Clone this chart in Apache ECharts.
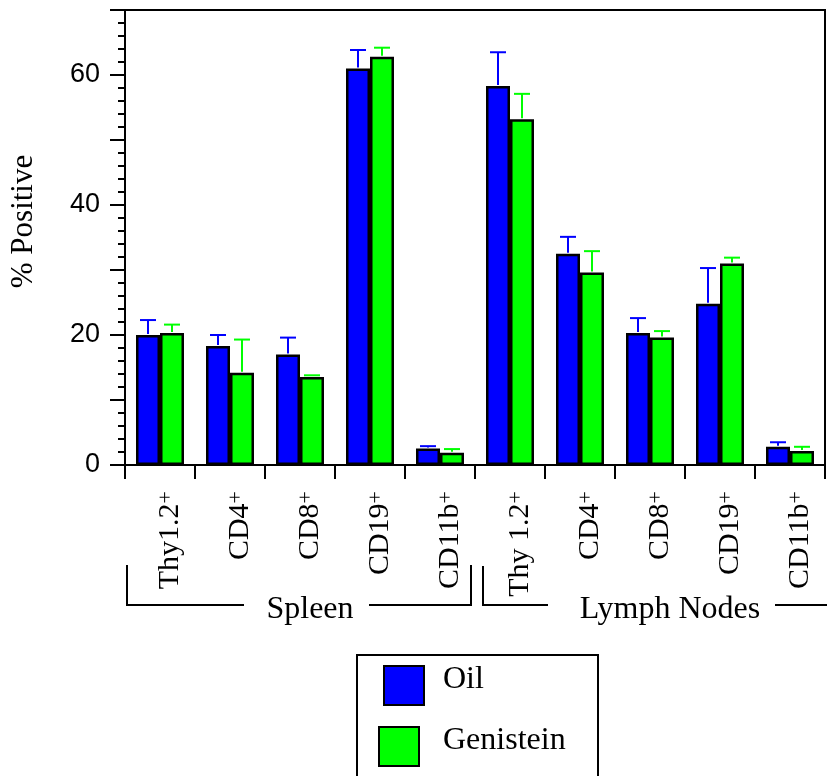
<!DOCTYPE html>
<html>
<head>
<meta charset="utf-8">
<script src="https://cdn.jsdelivr.net/npm/echarts@6/dist/echarts.min.js"></script>
<style>
  html, body { margin: 0; padding: 0; background: #fff; }
  #chart { width: 827px; height: 776px; }
</style>
</head>
<body>
<div id="chart"></div>
<script>
// ---- data ----
var categories = ['Thy1.2', 'CD4', 'CD8', 'CD19', 'CD11b', 'Thy 1.2', 'CD4', 'CD8', 'CD19', 'CD11b'];
var groupNames = ['Spleen', 'Lymph Nodes'];
var seriesNames = ['Oil', 'Genistein'];
var oilValues = [20.0, 18.3, 17.0, 61.0, 2.55, 58.3, 32.5, 20.3, 24.8, 2.8];
var oilErrors = [2.3, 1.7, 2.6, 2.85, 0.35, 5.2, 2.6, 2.3, 5.5, 0.7];
var genValues = [20.3, 14.2, 13.55, 62.8, 1.9, 53.2, 29.6, 19.6, 31.0, 2.15];
var genErrors = [1.3, 5.1, 0.25, 1.4, 0.55, 3.9, 3.3, 1.0, 0.9, 0.65];
var yTickLabels = ['0', '20', '40', '60'];
var yAxisTitle = '% Positive';

// ---- style constants ----
var BLUE = '#0000ff', GREEN = '#00ff00';
var BAR_W = 24, CAP_W = 16;
var SERIF = 'Liberation Serif, Times New Roman, serif';
var SANS = 'Liberation Sans, Arial, sans-serif';

function errData(vals, errs) {
  return vals.map(function (v, i) { return [i, v, errs[i]]; });
}
function errRender(side) {
  return function (params, api) {
    var i = api.value(0), m = api.value(1), e = api.value(2);
    var c = api.coord([i, m]);
    var t = api.coord([i, m + e]);
    var x = c[0] + side * BAR_W / 2;
    var col = api.visual('color');
    return {
      type: 'group',
      children: [
        { type: 'line', shape: { x1: x, y1: c[1] - 1, x2: x, y2: t[1] }, style: { stroke: col, lineWidth: 2 } },
        { type: 'line', shape: { x1: x - CAP_W / 2, y1: t[1], x2: x + CAP_W / 2, y2: t[1] }, style: { stroke: col, lineWidth: 2 } }
      ]
    };
  };
}

var chart = echarts.init(document.getElementById('chart'), null, { renderer: 'canvas' });

function legendFor(name, left, top, padLeft) {
  return {
    data: [name], left: left, top: top,
    orient: 'vertical', padding: 0, icon: 'rect', itemWidth: 40, itemHeight: 39,
    selectedMode: false,
    itemStyle: { borderColor: '#000', borderWidth: 2 },
    formatter: function (n) { return '{t|' + n + '}'; },
    textStyle: {
      fontFamily: SERIF, fontSize: 32, color: '#000',
      rich: { t: { fontFamily: SERIF, fontSize: 32, color: '#000', padding: [0, 0, 11, padLeft] } }
    }
  };
}

var option = {
  animation: false,
  backgroundColor: '#fff',
  grid: { left: 122, right: 2, top: 10, bottom: 311, show: true, borderColor: '#000', borderWidth: 2, backgroundColor: 'transparent' },
  legend: [
    legendFor(seriesNames[0], 383, 664, 14),
    legendFor(seriesNames[1], 378, 725, 19)
  ],
  xAxis: {
    type: 'category',
    data: categories,
    axisLine: { show: true, lineStyle: { color: '#000', width: 2 } },
    axisTick: { show: true, length: 14, lineStyle: { color: '#000', width: 2 } },
    axisLabel: {
      interval: 0, rotate: 90, margin: 26, padding: [20, 0, 0, 0],
      formatter: function (v) { return '{m|' + v + '}{s|+}'; },
      rich: {
        m: { fontFamily: SERIF, fontSize: 30, color: '#000' },
        s: { fontFamily: SERIF, fontSize: 22, color: '#000', verticalAlign: 'top' }
      }
    }
  },
  yAxis: {
    type: 'value', min: 0, max: 70, interval: 10,
    name: yAxisTitle, nameLocation: 'middle', nameGap: 86,
    nameTextStyle: { fontFamily: SERIF, fontSize: 31, color: '#000', padding: [0, 0, 0, 32] },
    axisLine: { show: true, lineStyle: { color: '#000', width: 2 } },
    axisTick: { show: true, length: 15, lineStyle: { color: '#000', width: 2 } },
    minorTick: { show: true, splitNumber: 5, length: 7, lineStyle: { color: '#000', width: 2 } },
    splitLine: { show: false },
    axisLabel: {
      margin: 25, fontFamily: SANS, fontSize: 27, color: '#000',
      formatter: function (v) { return yTickLabels.indexOf(String(v)) >= 0 ? String(v) : ''; }
    }
  },
  series: [
    { name: seriesNames[0], type: 'bar', data: oilValues, barWidth: BAR_W, barGap: '0%',
      itemStyle: { color: BLUE, borderColor: '#000', borderWidth: 2.5 } },
    { name: seriesNames[1], type: 'bar', data: genValues, barWidth: BAR_W, barGap: '0%',
      itemStyle: { color: GREEN, borderColor: '#000', borderWidth: 2.5 } },
    { name: seriesNames[0] + ' error', type: 'custom', data: errData(oilValues, oilErrors),
      renderItem: errRender(-1), itemStyle: { color: BLUE }, z: 5 },
    { name: seriesNames[1] + ' error', type: 'custom', data: errData(genValues, genErrors),
      renderItem: errRender(1), itemStyle: { color: GREEN }, z: 5 }
  ],
  graphic: [
    { type: 'rect', left: 356, top: 654, shape: { width: 241, height: 140 }, style: { fill: '#fff', stroke: '#000', lineWidth: 2 }, z: -1 },
    { type: 'polyline', shape: { points: [[127, 565], [127, 605], [244, 605]] }, style: { stroke: '#000', lineWidth: 2, fill: null } },
    { type: 'polyline', shape: { points: [[369, 605], [471, 605], [471, 565]] }, style: { stroke: '#000', lineWidth: 2, fill: null } },
    { type: 'polyline', shape: { points: [[483, 566], [483, 605], [548, 605]] }, style: { stroke: '#000', lineWidth: 2, fill: null } },
    { type: 'polyline', shape: { points: [[775, 605], [830, 605]] }, style: { stroke: '#000', lineWidth: 2, fill: null } },
    { type: 'text', x: 310, y: 610, style: { text: groupNames[0], font: '32px ' + SERIF, fill: '#000', align: 'center', verticalAlign: 'middle' } },
    { type: 'text', x: 670, y: 610, style: { text: groupNames[1], font: '32px ' + SERIF, fill: '#000', align: 'center', verticalAlign: 'middle' } }
  ]
};
chart.setOption(option);
</script>
</body>
</html>
